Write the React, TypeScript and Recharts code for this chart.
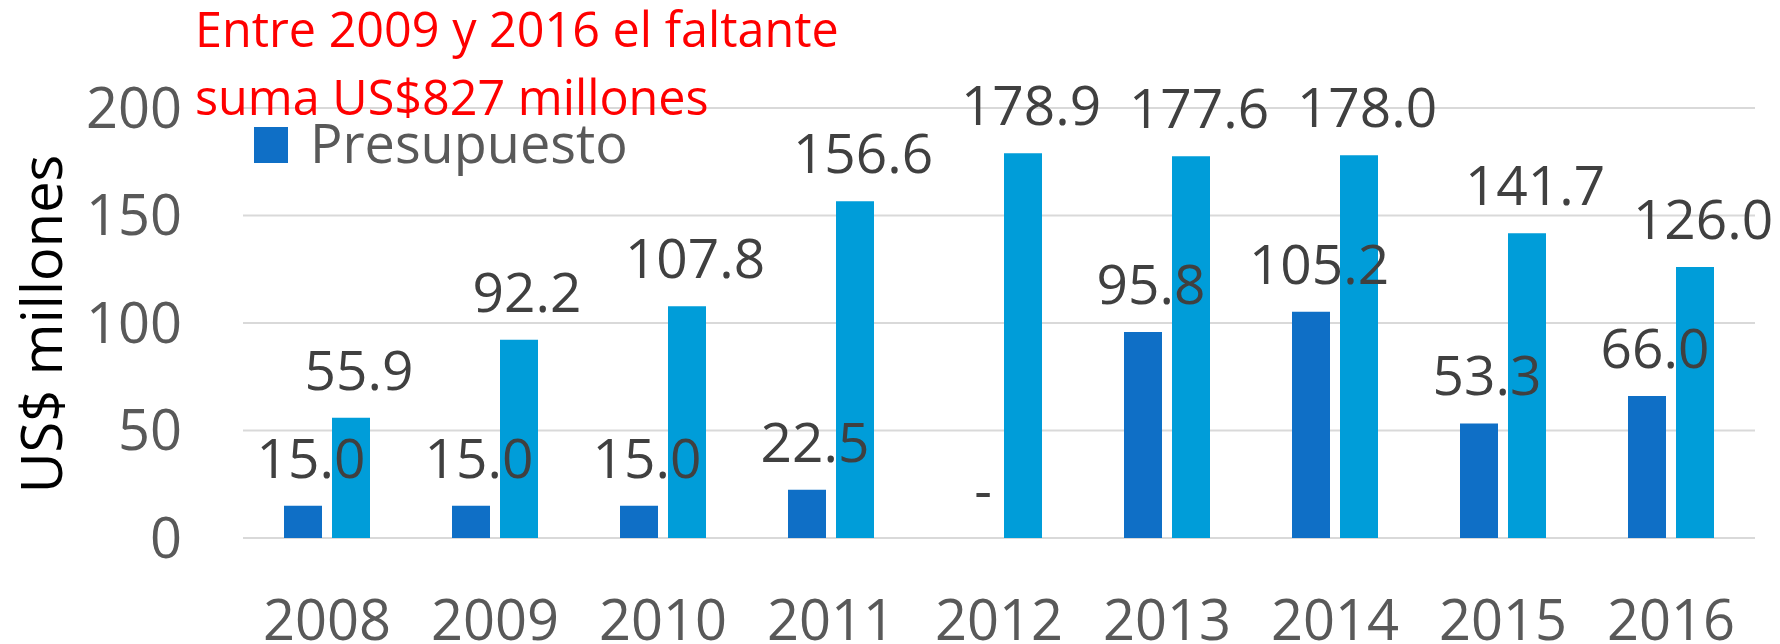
import React from 'react';
import { BarChart, Bar, XAxis, YAxis, CartesianGrid, LabelList, Legend } from 'recharts';

const years = ['2008', '2009', '2010', '2011', '2012', '2013', '2014', '2015', '2016'];
const presupuesto = [15.0, 15.0, 15.0, 22.5, 0, 95.8, 105.2, 53.3, 66.0];
const ejecutado = [55.9, 92.2, 107.8, 156.6, 178.9, 177.6, 178.0, 141.7, 126.0];
const yTicks = [0, 50, 100, 150, 200];
const titleLines = ['Entre 2009 y 2016 el faltante', 'suma US$827 millones'];
const yLabel = 'US$ millones';

const data = years.map((y, i) => ({ year: y, presupuesto: presupuesto[i], ejecutado: ejecutado[i] }));

const FONT = "'Open Sans', sans-serif";
const DARK = '#0F6FC6';
const LIGHT = '#009DD9';

const fmt = (v: number) => (v === 0 ? '-' : v.toFixed(1));

const renderLabel = (props: any) => {
  const { x, y, width, height, value } = props;
  const top = Math.min(Number(y), Number(y) + Number(height || 0));
  return (
    <text
      x={Number(x) + Number(width) / 2 + 8}
      y={top - 28}
      textAnchor="middle"
      fill="#404040"
      fontSize={55}
      fontFamily={FONT}
    >
      {fmt(Number(value))}
    </text>
  );
};

const renderLegend = () => (
  <svg width={400} height={60} style={{ display: 'block', overflow: 'visible' }}>
    <rect x={0} y={0} width={34} height={36} fill={DARK} />
    <text x={56} y={36} fontSize={54} fill="#595959" fontFamily={FONT}>
      Presupuesto
    </text>
  </svg>
);

const tinyForZero = (value: any) => (Number(value) === 0 ? 0.01 : 0);

export default function App() {
  return (
    <div style={{ position: 'absolute', left: 0, top: 0, width: 1780, height: 644, background: '#fff' }}>
      <BarChart
        width={1780}
        height={644}
        data={data}
        margin={{ top: 108, right: 25, left: 43, bottom: 0 }}
        barSize={38}
        barGap={10}
      >
        <CartesianGrid vertical={false} stroke="#D9D9D9" strokeWidth={2} />
        <XAxis
          dataKey="year"
          height={106}
          axisLine={false}
          tickLine={false}
          tickSize={0}
          tickMargin={62}
          interval={0}
          tick={{ fill: '#595959', fontSize: 56, fontFamily: FONT }}
        />
        <YAxis
          width={200}
          domain={[0, 200]}
          ticks={yTicks}
          axisLine={false}
          tickLine={false}
          tickSize={0}
          tickMargin={61}
          tick={{ fill: '#595959', fontSize: 56, fontFamily: FONT }}
          label={{
            content: () => (
              <text
                transform="translate(62,324) rotate(-90)"
                textAnchor="middle"
                fontSize={56}
                fill="#000000"
                fontFamily={FONT}
              >
                {yLabel}
              </text>
            ),
          }}
        />
        <Legend
          layout="vertical"
          verticalAlign="middle"
          align="center"
          wrapperStyle={{ position: 'absolute', left: 254, top: 127, width: 400, height: 60 }}
          content={renderLegend}
        />
        <Bar
          dataKey="presupuesto"
          name="Presupuesto"
          fill={DARK}
          minPointSize={tinyForZero}
          isAnimationActive={false}
        >
          <LabelList dataKey="presupuesto" content={renderLabel} />
        </Bar>
        <Bar dataKey="ejecutado" name="Ejecutado" fill={LIGHT} isAnimationActive={false}>
          <LabelList dataKey="ejecutado" content={renderLabel} />
        </Bar>
      </BarChart>
      <svg
        width={1780}
        height={644}
        style={{ position: 'absolute', left: 0, top: 0, pointerEvents: 'none' }}
      >
        <text x={195} y={47} fontSize={48.5} fill="#FF0000" fontFamily={FONT}>
          {titleLines[0]}
        </text>
        <text x={195} y={115} fontSize={48.5} fill="#FF0000" fontFamily={FONT}>
          {titleLines[1]}
        </text>
      </svg>
    </div>
  );
}
